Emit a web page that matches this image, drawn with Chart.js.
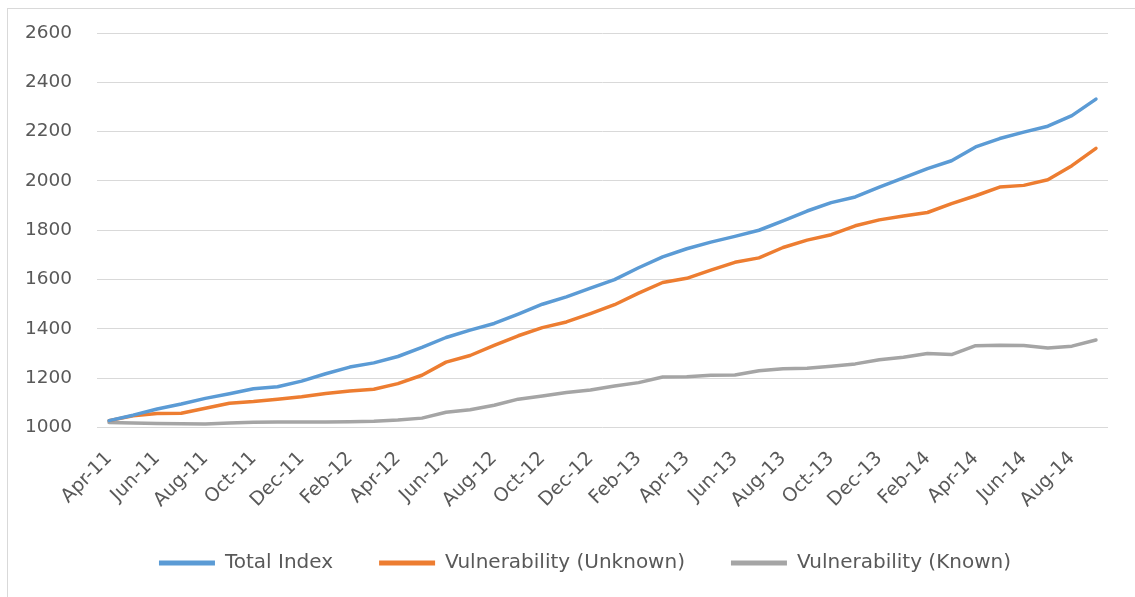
<!DOCTYPE html>
<html>
<head>
<meta charset="utf-8">
<title>Index by vulnerability</title>
<script src="https://cdn.jsdelivr.net/npm/chart.js@4/dist/chart.umd.min.js"></script>
<style>
  html, body { margin: 0; padding: 0; background: #ffffff; }
  #frame {
    position: absolute; left: 7px; top: 8px; width: 1140px; height: 600px;
    border-left: 1px solid #d9d9d9; border-top: 1px solid #d9d9d9;
  }
  #wrap { position: absolute; left: 0; top: 0; width: 1135px; height: 597px; }
</style>
</head>
<body>
<div id="frame"></div>
<div id="wrap"><canvas id="chart" width="1135" height="597"></canvas></div>
<script>
// Monthly index values, Apr-11 through Sep-14
const months = [
  'Apr-11','May-11','Jun-11','Jul-11','Aug-11','Sep-11','Oct-11','Nov-11','Dec-11','Jan-12',
  'Feb-12','Mar-12','Apr-12','May-12','Jun-12','Jul-12','Aug-12','Sep-12','Oct-12','Nov-12',
  'Dec-12','Jan-13','Feb-13','Mar-13','Apr-13','May-13','Jun-13','Jul-13','Aug-13','Sep-13',
  'Oct-13','Nov-13','Dec-13','Jan-14','Feb-14','Mar-14','Apr-14','May-14','Jun-14','Jul-14',
  'Aug-14','Sep-14'
];

const totalIndex = [
  1028, 1050, 1075, 1095, 1118, 1137, 1157, 1165, 1188, 1218,
  1245, 1262, 1288, 1325, 1365, 1395, 1422, 1460, 1500, 1530,
  1565, 1600, 1648, 1692, 1725, 1752, 1775, 1800, 1838, 1878,
  1912, 1935, 1975, 2012, 2050, 2082, 2138, 2172, 2198, 2222,
  2265, 2332
];

const vulnUnknown = [
  1028, 1048, 1057, 1058, 1078, 1098, 1105, 1115, 1125, 1138,
  1148, 1155, 1178, 1212, 1265, 1292, 1333, 1372, 1405, 1428,
  1462, 1498, 1545, 1588, 1605, 1638, 1670, 1688, 1730, 1760,
  1782, 1818, 1842, 1858, 1872, 1908, 1940, 1975, 1982, 2005,
  2062, 2132
];

const vulnKnown = [
  1020, 1018, 1016, 1015, 1014, 1018, 1021, 1022, 1022, 1022,
  1023, 1025, 1030, 1038, 1062, 1072, 1090, 1115, 1128, 1142,
  1152, 1168, 1182, 1205, 1206, 1212, 1213, 1230, 1238, 1240,
  1248, 1258, 1275, 1285, 1300, 1296, 1332, 1334, 1333, 1322,
  1330, 1355
];

const seriesNames = ['Total Index', 'Vulnerability (Unknown)', 'Vulnerability (Known)'];
const yMin = 1000, yMax = 2600, yStep = 200;

const textColor = '#595959';
const gridColor = '#d9d9d9';
const fontFamily = '"DejaVu Sans", "Liberation Sans", sans-serif';

function lineSet(label, data, color) {
  return {
    label: label,
    data: data,
    borderColor: color,
    backgroundColor: color,
    borderWidth: 3.5,
    pointRadius: 0,
    pointHoverRadius: 0,
    tension: 0,
    fill: false,
    borderJoinStyle: 'round',
    borderCapStyle: 'round'
  };
}

// Nudge the legend row so it sits centred under the whole frame
const legendShift = {
  id: 'legendShift',
  afterLayout(chart) {
    if (chart.legend) {
      chart.legend.left += 31;
      chart.legend.right += 31;
    }
  }
};

new Chart(document.getElementById('chart'), {
  type: 'line',
  data: {
    labels: months,
    datasets: [
      lineSet(seriesNames[0], totalIndex, '#5b9bd5'),
      lineSet(seriesNames[1], vulnUnknown, '#ed7d31'),
      lineSet(seriesNames[2], vulnKnown, '#a5a5a5')
    ]
  },
  plugins: [legendShift],
  options: {
    responsive: false,
    animation: false,
    devicePixelRatio: 1,
    layout: { padding: { left: 0, right: 27, top: 33, bottom: 14 } },
    plugins: {
      tooltip: { enabled: false },
      legend: {
        position: 'bottom',
        labels: {
          color: textColor,
          font: { family: fontFamily, size: 20 },
          boxWidth: 56,
          boxHeight: 5,
          padding: 46,
          generateLabels: (chart) =>
            Chart.defaults.plugins.legend.labels.generateLabels(chart).map(item => ({ ...item, lineWidth: 0 }))
        }
      }
    },
    scales: {
      x: {
        offset: true,
        grid: { display: false, drawTicks: false },
        border: { display: false },
        ticks: {
          autoSkip: false,
          maxRotation: 45,
          minRotation: 45,
          padding: 20,
          color: textColor,
          font: { family: fontFamily, size: 19 },
          callback: function (value, index) {
            return index % 2 === 0 ? this.getLabelForValue(value) : null;
          }
        },
        afterFit: (scale) => { scale.height = 79.5; }
      },
      y: {
        min: yMin,
        max: yMax,
        grid: { color: gridColor, lineWidth: 1, drawTicks: false },
        border: { display: false },
        ticks: {
          stepSize: yStep,
          padding: 25,
          color: textColor,
          font: { family: fontFamily, size: 18.5 },
          callback: (value) => String(value)
        },
        afterFit: (scale) => {
          scale.width = 97;
          scale.paddingTop = 0;
          scale.paddingBottom = 0;
        }
      }
    }
  }
});
</script>
</body>
</html>
